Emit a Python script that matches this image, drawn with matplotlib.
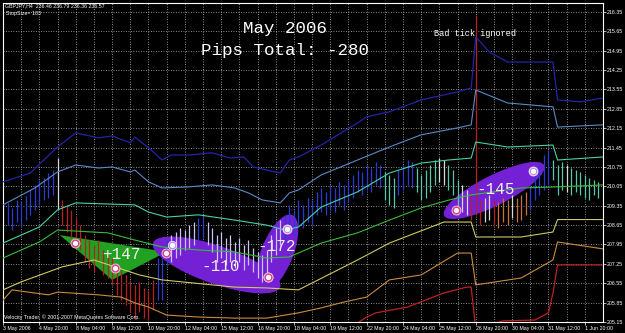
import math

import numpy as np
from matplotlib import pyplot as plt
from matplotlib.patches import Ellipse, Polygon
from matplotlib.transforms import IdentityTransform

W, H = 625, 333

# price bars, one every 4 hours, index from the left edge of the chart
bar_high = [209.37, 209.45, 209.27, 209.55, 209.48, 209.70, 209.92, 210.10, 210.28, 210.35,
            210.53, 210.64, 211.07, 209.55, 209.37, 209.19, 208.90, 208.65, 208.29, 208.11,
            207.93, 208.11, 207.75, 207.57, 207.46, 207.21, 207.03, 206.84, 206.67, 206.48,
            206.59, 206.37, 206.30, 206.67, 207.46, 207.57, 208.11, 208.29, 208.40, 208.54,
            208.47, 208.65, 208.76, 208.90, 209.01, 208.76, 208.54, 208.29, 208.40, 208.18,
            208.29, 208.04, 208.18, 207.93, 208.11, 207.82, 207.67, 207.57, 207.75, 208.29,
            208.54, 208.83, 209.01, 209.37, 209.19, 209.55, 209.37, 209.63, 209.55, 209.84,
            209.99, 209.84, 210.10, 209.99, 210.20, 210.10, 210.28, 210.46, 210.64, 210.57,
            210.82, 210.71, 210.93, 210.82, 210.57, 210.46, 210.35, 210.64, 210.82, 211.00,
            210.93, 210.71, 210.46, 210.64, 210.82, 211.00, 211.07, 211.00, 210.82, 210.64,
            210.28, 210.10, 209.92, 209.73, 216.24, 209.55, 209.63, 209.73, 209.55, 209.48,
            209.63, 209.55, 209.73, 209.63, 209.73, 209.84, 210.10, 210.46, 210.82, 211.18,
            211.36, 211.00, 210.82, 210.93, 210.82, 210.71, 210.64, 210.57, 210.46, 210.35,
            210.28, 210.20]
bar_low = [208.54, 208.65, 208.47, 208.76, 208.61, 208.83, 209.01, 209.19, 209.37, 209.55,
           209.63, 209.73, 209.19, 208.65, 208.40, 208.18, 207.93, 207.75, 207.31, 207.10,
           206.95, 207.31, 206.84, 206.74, 206.48, 206.12, 205.94, 205.76, 205.51, 205.29,
           205.51, 205.29, 205.22, 205.58, 205.94, 205.94, 207.21, 207.31, 207.46, 207.57,
           207.75, 207.82, 207.93, 208.11, 208.18, 207.93, 207.67, 207.31, 207.46, 207.21,
           207.31, 207.10, 207.31, 207.03, 207.21, 206.95, 206.74, 206.59, 206.67, 207.31,
           207.57, 207.93, 208.11, 208.40, 208.29, 208.65, 208.54, 208.76, 208.65, 209.01,
           209.12, 209.01, 209.19, 209.12, 209.37, 209.19, 209.48, 209.63, 209.84, 209.73,
           209.92, 209.84, 210.10, 209.99, 209.55, 209.37, 209.27, 209.73, 209.92, 210.10,
           209.99, 209.84, 209.55, 209.63, 209.84, 210.10, 210.20, 210.10, 209.92, 209.73,
           209.01, 209.12, 209.01, 208.83, 209.01, 208.65, 208.76, 208.83, 208.65, 208.54,
           208.76, 208.65, 208.90, 208.76, 208.83, 209.01, 209.19, 209.55, 209.73, 209.92,
           210.10, 210.28, 209.73, 209.92, 209.84, 209.73, 209.84, 209.73, 209.63, 209.55,
           209.73, 209.63]
bar_kind = ("B" * 12 + "W" + "R" * 21 + "B" * 3 + "L" * 6 + "B" * 2 + "L" * 17 + "B" * 22
            + "T" * 3 + "B" * 4 + "T" * 5 + "W" * 2 + "T" * 3 + "W" * 2 + "R" * 3 + "W" * 2
            + "R" + "O" * 3 + "W" + "O" * 3 + "B" * 5 + "T" * 3 + "W" + "T" * 7)

# indicator lines (bar index, price)
navy_bar = [0, 6, 12, 16, 21, 24, 28, 29, 32, 35, 37, 41, 46, 50, 53, 55, 61, 63, 65, 70,
            78, 80, 85, 92, 100, 103, 104, 107, 111, 121, 122, 127, 132]
navy_val = [210.21, 210.53, 211.47, 211.98, 211.80, 211.87, 211.62, 211.83, 211.44, 211.00,
            211.18, 211.18, 211.26, 211.07, 211.11, 210.75, 210.53, 211.00, 211.11, 211.54,
            212.34, 212.56, 212.74, 213.17, 213.46, 213.60, 215.45, 214.90, 214.54, 214.54,
            213.17, 213.10, 213.24]
steel_bar = [0, 7, 12, 16, 21, 24, 28, 29, 32, 35, 41, 46, 51, 54, 57, 61, 63, 65, 70, 78,
             85, 92, 100, 103, 104, 111, 121, 122, 132]
steel_val = [209.38, 209.99, 210.57, 210.82, 210.71, 210.75, 210.57, 210.64, 210.21, 209.99,
             210.03, 210.10, 209.99, 209.81, 209.56, 209.45, 209.81, 209.92, 210.46, 211.00,
             211.47, 211.91, 212.16, 212.27, 213.53, 213.06, 212.92, 212.19, 212.27]
teal_bar = [0, 8, 12, 16, 29, 32, 36, 43, 51, 58, 62, 65, 70, 78, 85, 92, 98, 103, 104,
            111, 121, 122, 132]
teal_val = [208.00, 208.58, 209.20, 209.45, 209.38, 209.12, 208.94, 209.02, 208.83, 208.65,
            208.47, 208.58, 209.30, 209.85, 210.53, 210.89, 211.00, 211.07, 211.65, 211.47,
            211.54, 211.00, 211.11]
green_bar = [0, 8, 12, 23, 29, 35, 43, 51, 58, 63, 70, 78, 85, 92, 98, 103, 114, 122, 132]
green_val = [207.46, 208.04, 208.47, 208.37, 208.11, 207.86, 207.75, 207.68, 207.46, 207.50,
             208.00, 208.37, 208.83, 209.27, 209.55, 209.74, 209.99, 210.03, 210.10]
yellow_bar = [0, 4, 13, 20, 30, 35, 51, 58, 65, 78, 85, 97, 103, 104, 114, 121, 122, 132]
yellow_val = [206.31, 206.60, 207.14, 207.39, 206.85, 206.67, 206.41, 206.38, 206.31, 207.39,
              208.00, 208.76, 208.76, 208.22, 208.22, 208.40, 208.85, 208.85]
orange_bar = [0, 2, 10, 12, 21, 26, 29, 32, 36, 43, 51, 58, 65, 70, 75, 80, 85, 92, 100,
              103, 104, 114, 121, 122, 132]
orange_val = [205.94, 206.31, 206.13, 206.23, 206.13, 206.05, 205.84, 205.69, 205.40, 205.33,
              205.29, 205.29, 205.48, 205.66, 205.87, 206.05, 206.67, 206.85, 207.64, 207.64,
              206.49, 206.74, 207.39, 208.04, 207.79]
red_bar = [76, 80, 82, 89, 97, 102, 103, 104, 110, 117, 120, 121, 122, 132]
red_val = [204.90, 205.33, 205.48, 205.69, 206.20, 206.41, 206.41, 204.90, 205.19, 205.22,
           205.48, 206.20, 207.21, 207.21]

# trades: entry / exit and result in pips
trade_in_bar = [15.8, 35.8, 58.2, 99.6]
trade_in_px = [208.00, 207.64, 206.78, 209.20]
trade_out_bar = [24.6, 58.2, 62.4, 116.5]
trade_out_px = [207.10, 206.78, 208.51, 210.60]
trade_pips = ["+147", "-110", "-172", "-145"]

# extra order markers (pending orders)
order_bar = [37.1, 62.4, 116.5]
order_px = [207.93, 208.51, 210.60]

# green triangle object
tri_bar = [12.5, 36, 24]
tri_px = [208.29, 207.68, 206.67]

x_labels = ["3 May 2006", "4 May 20:00", "8 May 04:00", "9 May 12:00", "10 May 20:00",
            "12 May 04:00", "15 May 12:00", "16 May 20:00", "18 May 04:00", "19 May 12:00",
            "22 May 20:00", "24 May 04:00", "25 May 12:00", "26 May 20:00", "30 May 04:00",
            "31 May 12:00", "1 Jun 20:00"]
y_levels = [205.15, 205.85, 206.55, 207.25, 207.95, 208.65, 209.35, 210.05, 210.75, 211.45,
            212.15, 212.85, 213.55, 214.25, 214.95, 215.65, 216.35]

BAR_COLORS = {"B": "#2a3cd0", "R": "#b82020", "L": "#c8c4f4", "T": "#58c8a8",
              "W": "#d8d8d8", "O": "#c87040"}

fig = plt.figure(figsize=(W / 100, H / 100), dpi=100, facecolor="black")
ax = fig.add_axes([3 / W, 11 / H, 600 / W, 319 / H], facecolor="black")
ax.set_xlim(0, 132)
ax.set_ylim(205.15, 216.67)

for s in ax.spines.values():
    s.set_color("white")
    s.set_linewidth(0.8)

# grid
ax.set_xticks(np.arange(0, 132, 8))
ax.set_xticks(np.arange(4, 132, 8), minor=True)
ax.set_xticklabels(x_labels, ha="left", fontsize=3.8, color="white",
                   family="Liberation Sans")
ax.set_yticks(y_levels)
ax.set_yticklabels(["%.2f" % v for v in y_levels], fontsize=3.8, color="white",
                   family="Liberation Sans")
ax.yaxis.tick_right()
ax.tick_params(axis="both", which="both", colors="white", length=2, width=0.5, pad=1)
ax.tick_params(axis="x", which="minor", length=0)
ax.grid(True, which="both", color="#b8b8b8", linestyle=(0, (1, 2)), linewidth=0.6)
ax.set_axisbelow(True)

# objects in the background
ax.add_patch(Polygon(list(zip(tri_bar, tri_px)), closed=True, facecolor="#22a022",
                     edgecolor="none", zorder=1))

# (extra length px, width px, extra tilt deg) for each ellipse round a losing trade
ell_shape = [None, (30, 38, -6), (30, 32, 0), (26, 30, 0)]
for k in range(1, 4):
    a = ax.transData.transform((trade_in_bar[k], trade_in_px[k]))
    b = ax.transData.transform((trade_out_bar[k], trade_out_px[k]))
    cx, cy = (a + b) / 2
    dx, dy = b - a
    ang = math.degrees(math.atan2(dy, dx)) + ell_shape[k][2]
    length = math.hypot(dx, dy) + ell_shape[k][0]
    e = Ellipse((cx, cy), length, ell_shape[k][1], angle=ang, transform=IdentityTransform(),
                facecolor="#7420d4", edgecolor="none", zorder=1)
    ax.add_artist(e)

# bars
idx = np.arange(len(bar_high))
ax.vlines(idx, bar_low, bar_high, colors=[BAR_COLORS[c] for c in bar_kind],
          linewidth=0.9, zorder=2)

# indicator lines
ax.plot(navy_bar, navy_val, color="#2424a8", lw=0.9, zorder=3)
ax.plot(steel_bar, steel_val, color="#5a8ac8", lw=0.8, zorder=3)
ax.plot(teal_bar, teal_val, color="#48d0a8", lw=0.8, zorder=3)
ax.plot(green_bar, green_val, color="#3cb83c", lw=0.8, zorder=3)
ax.plot(yellow_bar, yellow_val, color="#d0c860", lw=0.8, zorder=3)
ax.plot(orange_bar, orange_val, color="#c88c40", lw=0.8, zorder=3)
ax.plot(red_bar, red_val, color="#c02020", lw=0.9, zorder=3)

# trade markers
mk_bar = trade_in_bar + trade_out_bar
mk_px = trade_in_px + trade_out_px
ax.scatter(mk_bar, mk_px, s=42, c="#d84888", edgecolors="#f4c8e0", linewidths=0.6,
           zorder=6)
ax.scatter(order_bar, order_px, s=36, c="#b090e8", edgecolors="#f0e0ff", linewidths=0.6,
           zorder=6)
ax.scatter(mk_bar + order_bar, mk_px + order_px, s=7, c="white", zorder=7)

label_off = [(27, 1), (4, -2), (0, 6), (1, 1)]
for k in range(4):
    mx = (trade_in_bar[k] + trade_out_bar[k]) / 2
    my = (trade_in_px[k] + trade_out_px[k]) / 2
    ax.annotate(trade_pips[k], (mx, my), xytext=label_off[k], textcoords="offset pixels",
                ha="center", va="center", color="#f0f0f0", fontsize=11.5,
                family="Liberation Mono", zorder=8)

# texts
fig.text(285 / W, 1 - 29 / H, "May 2006", ha="center", va="center", color="white",
         fontsize=12.6, family="Liberation Mono")
fig.text(285 / W, 1 - 50 / H, "Pips Total: -280", ha="center", va="center",
         color="white", fontsize=12.6, family="Liberation Mono")
fig.text(475 / W, 1 - 33 / H, "Bad tick ignored", ha="center", va="center",
         color="white", fontsize=6.2, family="Liberation Mono")
fig.text(5 / W, 1 - 6 / H, "GBPJPY,H4  236.46 236.79 236.36 236.57", ha="left",
         va="center", color="white", fontsize=3.8, family="Liberation Sans")
fig.text(6 / W, 1 - 13 / H, "StopSize= 103", ha="left", va="center", color="white",
         fontsize=3.8, family="Liberation Sans")
fig.text(4 / W, 1 - 317 / H, "Velocity Trader, \u00a9 2001-2007 MetaQuotes Software Corp.",
         ha="left", va="center", color="white", fontsize=3.8, family="Liberation Sans")

fig.savefig("out.png", dpi=100, facecolor="black")
